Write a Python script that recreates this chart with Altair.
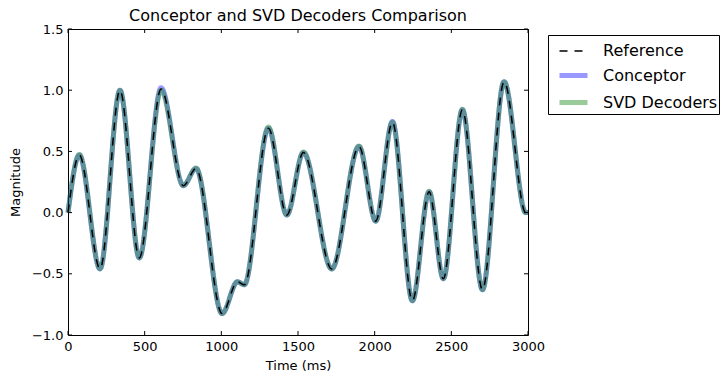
import altair as alt
import pandas as pd

# Values (local extrema of the signals)
time_ms = [0, 74, 209, 339, 465, 607, 752, 835, 1005, 1105, 1150, 1307, 1427,
           1535, 1720, 1898, 2007, 2116, 2246, 2355, 2448, 2572, 2703, 2844, 2985, 3000]
reference = [0.0, 0.47, -0.46, 1.0, -0.37, 1.01, 0.22, 0.36, -0.825, -0.565, -0.59, 0.69, -0.02,
             0.49, -0.46, 0.54, -0.07, 0.74, -0.72, 0.17, -0.54, 0.84, -0.63, 1.07, 0.0, 0.0]
conceptor = [0.0, 0.47, -0.46, 1.0, -0.37, 1.02, 0.22, 0.36, -0.825, -0.565, -0.59, 0.69, -0.02,
             0.49, -0.46, 0.54, -0.07, 0.745, -0.72, 0.17, -0.54, 0.84, -0.63, 1.07, 0.0, 0.0]
svd_decoders = [0.0, 0.475, -0.46, 1.0, -0.37, 1.0, 0.22, 0.365, -0.825, -0.565, -0.59, 0.70, -0.02,
                0.495, -0.46, 0.545, -0.07, 0.74, -0.72, 0.175, -0.54, 0.845, -0.63, 1.07, 0.0, 0.0]

series_names = ["Reference", "Conceptor", "SVD Decoders"]
series_colors = ["#000000", "#0000ff", "#008000"]
x_ticks = [0, 500, 1000, 1500, 2000, 2500, 3000]
y_ticks = [-1.0, -0.5, 0.0, 0.5, 1.0, 1.5]

W, H = 460, 306
FONT = "DejaVu Sans"

rows = []
for name, vals in [("Conceptor", conceptor), ("SVD Decoders", svd_decoders), ("Reference", reference)]:
    for t, v in zip(time_ms, vals):
        rows.append({"t": t, "v": v, "series": name})
df = pd.DataFrame(rows)

xs = alt.Scale(domain=[0, 3000], nice=False, zero=False)
ys = alt.Scale(domain=[-1.0, 1.5], nice=False, zero=False)

x_axis = alt.Axis(
    values=x_ticks, format="d", title="Time (ms)", tickSize=0, labelPadding=5,
    labelFlush=False, labelOverlap=False,
    domain=False, grid=False, labelFont=FONT, labelFontSize=13, labelColor="black",
    titleFont=FONT, titleFontSize=13, titleFontWeight="normal", titleColor="black",
    titlePadding=6)
y_axis = alt.Axis(
    values=y_ticks, format=".1f", title="Magnitude", tickSize=0, labelPadding=5,
    labelFlush=False, labelOverlap=False,
    domain=False, grid=False, labelFont=FONT, labelFontSize=13, labelColor="black",
    titleFont=FONT, titleFontSize=13, titleFontWeight="normal", titleColor="black",
    titlePadding=9)

legend = alt.Legend(
    title=None, orient="none", legendX=480, legendY=6,
    symbolType="stroke", symbolSize=784, symbolOffset=8, labelFont=FONT, labelFontSize=16,
    labelColor="black", labelOffset=13, strokeColor="black", fillColor="white",
    padding=1, rowPadding=-3, cornerRadius=0, symbolOpacity=1,
)


def line_layer(name):
    return alt.Chart(df).transform_filter(alt.datum.series == name).mark_line(
        interpolate="monotone", strokeCap="butt"
    ).encode(
        x=alt.X("t:Q", scale=xs, axis=x_axis),
        y=alt.Y("v:Q", scale=ys, axis=y_axis),
        color=alt.Color("series:N", scale=alt.Scale(type="ordinal", domain=series_names, range=series_colors), legend=legend),
        strokeDash=alt.StrokeDash("series:N", scale=alt.Scale(type="ordinal", domain=series_names, range=[[8, 7], [1, 0], [1, 0]]), legend=legend),
        strokeWidth=alt.StrokeWidth("series:N", scale=alt.Scale(type="ordinal", domain=series_names, range=[1.5, 5, 5]), legend=legend),
        opacity=alt.Opacity("series:N", scale=alt.Scale(type="ordinal", domain=series_names, range=[1.0, 0.4, 0.4]), legend=legend),
    )


xt = pd.DataFrame({"t": x_ticks})
yt = pd.DataFrame({"v": y_ticks})
tick_bottom = alt.Chart(xt).mark_rule(color="black", strokeWidth=1).encode(
    x=alt.X("t:Q", scale=xs, axis=x_axis), y=alt.value(H), y2=alt.value(H - 4))
tick_top = alt.Chart(xt).mark_rule(color="black", strokeWidth=1).encode(
    x=alt.X("t:Q", scale=xs, axis=x_axis), y=alt.value(0), y2=alt.value(4))
tick_left = alt.Chart(yt).mark_rule(color="black", strokeWidth=1).encode(
    y=alt.Y("v:Q", scale=ys, axis=y_axis), x=alt.value(0), x2=alt.value(4))
tick_right = alt.Chart(yt).mark_rule(color="black", strokeWidth=1).encode(
    y=alt.Y("v:Q", scale=ys, axis=y_axis), x=alt.value(W), x2=alt.value(W - 4))

chart = alt.layer(
    line_layer("Conceptor"), line_layer("SVD Decoders"), line_layer("Reference"),
    tick_bottom, tick_top, tick_left, tick_right,
).properties(
    width=W, height=H,
    title=alt.TitleParams("Conceptor and SVD Decoders Comparison", font=FONT, fontSize=16,
                          fontWeight="normal", color="black", offset=0, dy=1, anchor="middle"),
    autosize=alt.AutoSizeParams(type="none"),
    padding={"left": 68, "top": 29, "right": 196, "bottom": 41},
    background="white",
).configure_view(stroke="black", strokeWidth=1)

chart.save("out.html", embed_options={"renderer": "svg", "actions": False})
